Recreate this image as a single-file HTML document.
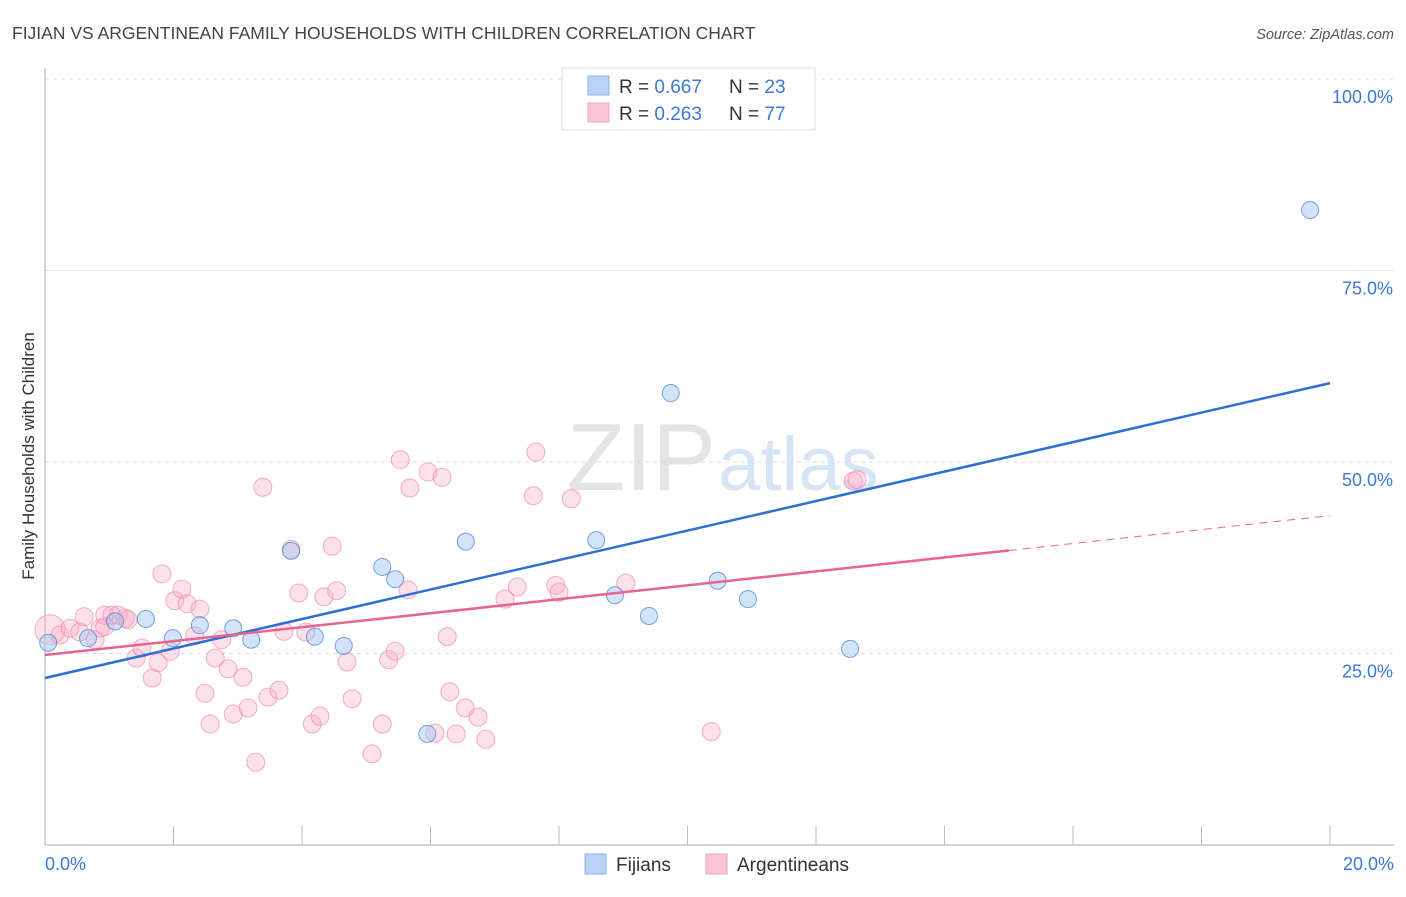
<!DOCTYPE html>
<html><head><meta charset="utf-8"><style>
body{margin:0;background:#fff;font-family:"Liberation Sans",sans-serif;}
svg text{font-family:"Liberation Sans",sans-serif;}
</style></head><body>
<svg id="chart" width="1406" height="892" xmlns="http://www.w3.org/2000/svg">
<text x="12" y="39" font-size="17.5" fill="#444">FIJIAN VS ARGENTINEAN FAMILY HOUSEHOLDS WITH CHILDREN CORRELATION CHART</text>
<text x="1394" y="39" font-size="14.5" fill="#555" text-anchor="end" font-style="italic">Source: ZipAtlas.com</text>
<text x="716" y="490" font-size="96" fill="#e4e4e4" text-anchor="end" font-family="Liberation Serif">ZIP</text>
<text x="718" y="490" font-size="76" fill="#d6e4f5">atlas</text>
<text transform="translate(34,456) rotate(-90)" font-size="17" fill="#333" text-anchor="middle">Family Households with Children</text>
<g id="grid"></g><g id="marks"></g>
<g>
<rect x="562" y="68" width="253" height="62" fill="#fff" stroke="#ddd"/>
<rect x="588" y="76" width="21" height="19" fill="#b8d3f5" stroke="#8fb5e8"/>
<rect x="588" y="103" width="21" height="19" fill="#fbc5d5" stroke="#f0a3bb"/>
<text x="619" y="93" font-size="19" fill="#333">R = <tspan fill="#3b78d4">0.667</tspan><tspan x="729">N = </tspan><tspan fill="#3b78d4">23</tspan></text>
<text x="619" y="120" font-size="19" fill="#333">R = <tspan fill="#3b78d4">0.263</tspan><tspan x="729">N = </tspan><tspan fill="#3b78d4">77</tspan></text>
</g>
<g>
<rect x="585" y="854" width="21" height="20" fill="#b8d3f5" stroke="#8fb5e8"/>
<text x="616" y="871" font-size="19" fill="#333">Fijians</text>
<rect x="706" y="854" width="21" height="20" fill="#fbc5d5" stroke="#f0a3bb"/>
<text x="737" y="871" font-size="19" fill="#333">Argentineans</text>
</g>
</svg>
<script>
const yTicks=[25,50,75,100];
const yTickLabels=["25.0%","50.0%","75.0%","100.0%"];
const xTickLabels=["0.0%","20.0%"];
const fijX=[0.05,0.67,1.09,1.57,1.99,2.41,2.93,3.21,3.83,4.20,4.65,5.25,5.45,5.95,6.55,8.58,8.87,9.40,9.74,10.47,10.94,12.53,19.69];
const fijY=[26.4,27.0,29.2,29.5,27.0,28.7,28.3,26.8,38.4,27.2,26.0,36.3,34.7,14.5,39.6,39.8,32.6,29.9,59.0,34.5,32.1,25.6,82.9];
const argX=[0.08,0.23,0.39,0.54,0.61,0.78,0.86,0.93,0.93,1.04,1.14,1.25,1.29,1.42,1.51,1.67,1.76,1.82,1.95,2.02,2.13,2.21,2.33,2.41,2.49,2.57,2.65,2.75,2.85,2.93,3.08,3.16,3.28,3.39,3.47,3.64,3.72,3.83,3.95,4.06,4.16,4.28,4.34,4.47,4.54,4.70,4.78,5.09,5.25,5.35,5.45,5.53,5.65,5.68,5.96,6.07,6.18,6.26,6.30,6.40,6.54,6.74,6.86,7.16,7.35,7.60,7.64,7.95,8.00,8.19,9.04,10.37,12.58,12.64];
const argY=[28.1,27.4,28.3,27.8,29.8,26.8,28.3,28.5,30.0,30.0,30.0,29.6,29.4,24.4,25.7,21.8,23.8,35.4,25.3,31.9,33.4,31.5,27.3,30.8,19.8,15.8,24.4,26.8,23.0,17.1,21.9,17.9,10.8,46.7,19.3,20.2,27.9,38.6,32.9,27.8,15.8,16.8,32.4,39.0,33.2,23.9,19.1,11.9,15.8,24.2,25.3,50.3,33.3,46.6,48.7,14.6,48.0,27.2,20.0,14.5,17.9,16.7,13.8,32.1,33.7,45.6,51.3,33.9,33.0,45.2,34.2,14.8,47.5,47.7];
const fijLine=[21.8,60.3];
const argLine=[24.8,43.0];
const argSolidEnd=15;
const NS="http://www.w3.org/2000/svg";
const X=v=>45+v*64.25, Y=v=>845-v*7.66;
function mk(p,t,a){const e=document.createElementNS(NS,t);for(const k in a)e.setAttribute(k,a[k]);p.appendChild(e);return e;}
const grid=document.getElementById('grid'), marks=document.getElementById('marks');
yTicks.forEach((t,i)=>{
 const l=mk(grid,'line',{x1:45,x2:1394,y1:Y(t),y2:Y(t),stroke:'#ddd','stroke-dasharray':'4,4'});
 
 
 const tx=mk(grid,'text',{x:1393,y:Y(t)+24,'font-size':18,fill:'#3b78d4','text-anchor':'end'});tx.textContent=yTickLabels[i];
 
 
});
mk(grid,'line',{x1:45,x2:45,y1:68,y2:845,stroke:'#aaa'});
mk(grid,'line',{x1:45,x2:1394,y1:845,y2:845,stroke:'#aaa'});
for(let i=1;i<=10;i++){const xx=X(i*2);mk(grid,'line',{x1:xx,x2:xx,y1:826,y2:845,stroke:'#bbb'});}
[[0,'start',45],[20,'end',1394]].forEach((d,i)=>{const t=mk(grid,'text',{x:d[2],y:870,'font-size':18,fill:'#3b78d4','text-anchor':d[1]});t.textContent=xTickLabels[i];
 
 });
argX.forEach((x,i)=>{const c=mk(marks,'circle',{cx:X(x),cy:Y(argY[i]),r:i==0?15:9,fill:'rgba(248,170,195,0.35)',stroke:'rgba(240,140,175,0.7)'});
 
 });
fijX.forEach((x,i)=>{const c=mk(marks,'circle',{cx:X(x),cy:Y(fijY[i]),r:8.5,fill:'rgba(160,195,240,0.45)',stroke:'rgba(80,140,220,0.8)'});
 
 });
const fl=mk(marks,'line',{x1:X(0),y1:Y(fijLine[0]),x2:X(20),y2:Y(fijLine[1]),stroke:'#2d6fd6','stroke-width':2.5});


const ay=x=>argLine[0]+(argLine[1]-argLine[0])*x/20;
const al=mk(marks,'line',{x1:X(0),y1:Y(ay(0)),x2:X(argSolidEnd),y2:Y(ay(argSolidEnd)),stroke:'#e8648f','stroke-width':2.5});


const ad=mk(marks,'line',{x1:X(argSolidEnd),y1:Y(ay(argSolidEnd)),x2:X(20),y2:Y(ay(20)),stroke:'#e8648f','stroke-width':1,'stroke-dasharray':'8,6'});


</script>
</body></html>
